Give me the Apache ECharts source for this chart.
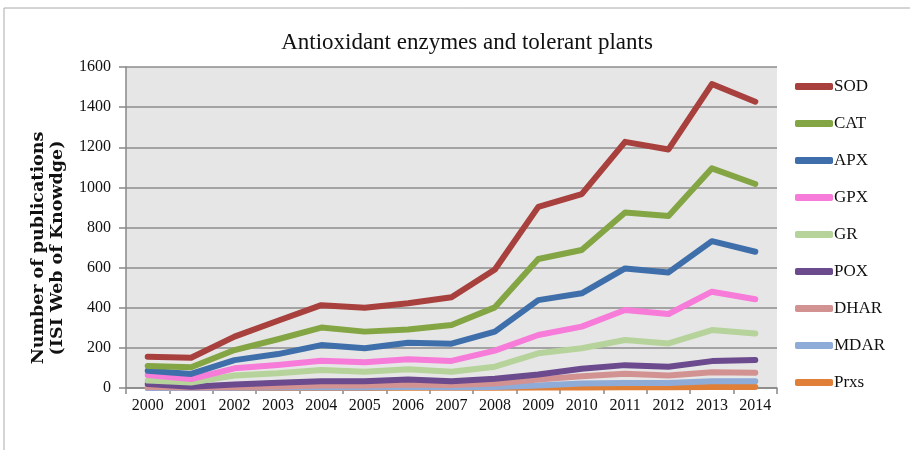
<!DOCTYPE html>
<html><head><meta charset="utf-8">
<script src="https://cdn.jsdelivr.net/npm/echarts@6/dist/echarts.min.js"></script>
<style>html,body{margin:0;padding:0;background:#fff}#c{width:910px;height:450px}</style>
</head><body><div id="c"></div>
<script>
const years = ['2000','2001','2002','2003','2004','2005','2006','2007','2008','2009','2010','2011','2012','2013','2014'];
const SOD  = [156,151,256,335,413,400,422,452,591,903,966,1227,1189,1515,1427];
const CAT  = [110,103,189,243,301,281,292,314,402,643,688,875,857,1095,1017];
const APX  = [86,70,139,169,214,198,226,221,281,438,472,596,576,732,679];
const GPX  = [65,45,98,115,136,128,143,135,186,264,306,389,369,480,442];
const GR   = [37,27,62,73,90,81,93,81,106,173,198,239,222,289,272];
const POX  = [20,6,17,26,34,34,42,34,46,67,96,114,106,134,139];
const DHAR = [5,2,5,8,12,12,18,15,22,42,59,71,62,79,76];
const MDAR = [0,0,1,2,3,3,5,4,5,12,22,25,25,34,34];
const Prxs = [0,0,0,0,0,0,1,1,1,2,3,4,4,5,5];
const yTicks = [0,200,400,600,800,1000,1200,1400,1600];

const names = ['SOD','CAT','APX','GPX','GR','POX','DHAR','MDAR','Prxs'];
const datas = [SOD,CAT,APX,GPX,GR,POX,DHAR,MDAR,Prxs];
const colors = ['#a8403d','#84a543','#3f6faa','#f77bd8','#b6d39b','#6b4b8d','#d39292','#8fabd7','#e07f37'];
const serif = '"Liberation Serif","DejaVu Serif",serif';

const chart = echarts.init(document.getElementById('c'));
chart.setOption({
  animation:false,
  backgroundColor:'#fff',
  color: colors,
  title:{text:'Antioxidant enzymes and tolerant plants', left:462, textAlign:'center', top:26,
    textStyle:{fontFamily:serif, fontSize:23, fontWeight:'normal', color:'#111'}},
  graphic:[
    {type:'rect', shape:{x:4,y:8,width:940,height:500}, style:{fill:null, stroke:'#aaa', lineWidth:1}, silent:true},
    {type:'text', x:48, y:248, rotation:Math.PI/2,
      style:{text:'Number of publications\n(ISI Web of Knowdge)', align:'center', verticalAlign:'middle',
        font:'bold 17.5px "DejaVu Serif",serif', fill:'#111', lineHeight:19}}
  ],
  legend:{orient:'vertical', left:790, top:73, itemWidth:38, itemHeight:7, itemGap:20, icon:'roundRect',
    textStyle:{fontFamily:serif, fontSize:17, color:'#111', padding:[0,0,0,-4]},
    data:names},
  grid:{left:126, top:67, right:133, bottom:62, show:true, backgroundColor:'#e6e6e6', borderWidth:0},
  xAxis:{type:'category', data:years, boundaryGap:true,
    axisLine:{show:true, lineStyle:{color:'#888', width:1.5}},
    axisTick:{show:true, alignWithLabel:false, length:6, lineStyle:{color:'#888', width:1.5}},
    axisLabel:{fontFamily:serif, fontSize:16, color:'#111', margin:10}},
  yAxis:{type:'value', min:0, max:1600, interval:200,
    axisLine:{show:true, lineStyle:{color:'#888', width:1.5}},
    axisTick:{show:true, inside:false, length:7, lineStyle:{color:'#888', width:1.5}},
    axisLabel:{fontFamily:serif, fontSize:16, color:'#111', margin:15, formatter:v=>String(v)}},
  splitLine:{},
  series: names.map((n,i)=>({name:n, type:'line', data:datas[i], showSymbol:false, symbol:'none',
    z: 20-i,
    lineStyle:{width:6, color:colors[i], cap:'round', join:'round'}, itemStyle:{color:colors[i]}}))
});
chart.setOption({yAxis:{splitLine:{show:true, lineStyle:{color:'#8c8c8c', width:1.5}}}});
</script></body></html>
